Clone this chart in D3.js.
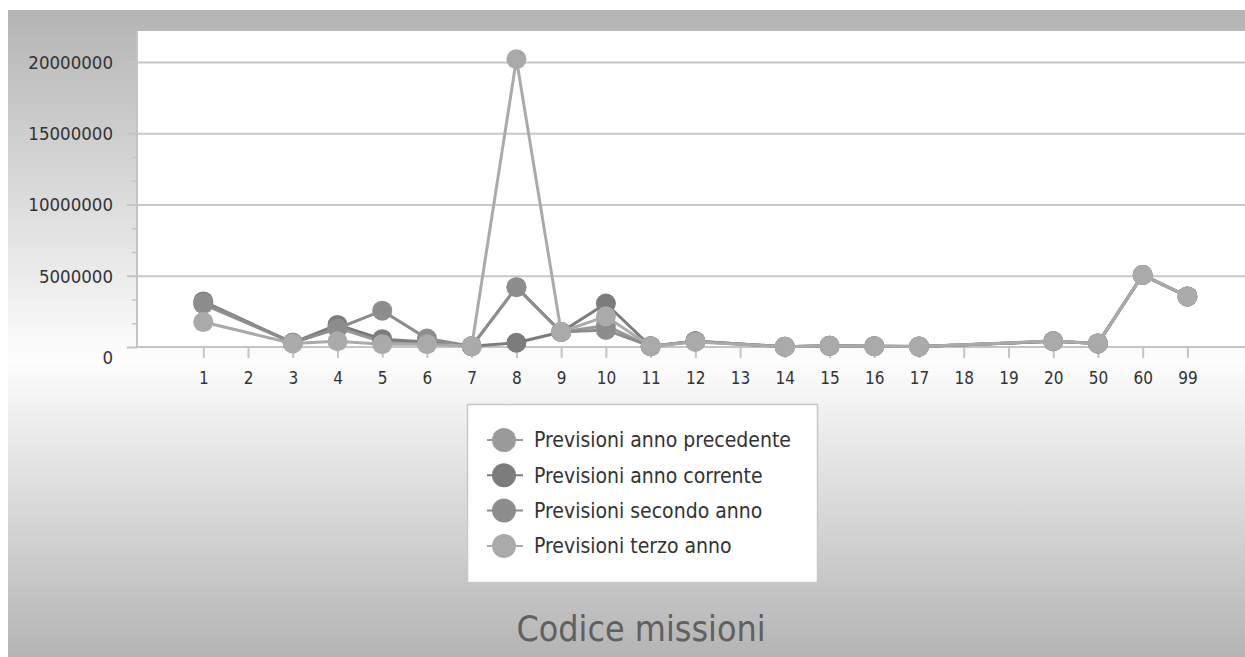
<!DOCTYPE html>
<html lang="it">
<head>
<meta charset="UTF-8">
<title>Codice missioni</title>
<script src="https://d3js.org/d3.v7.min.js"></script>
<style>
  html, body { margin: 0; padding: 0; background: #fff; }
  svg { display: block; }
  text { font-family: "DejaVu Sans Condensed", "DejaVu Sans", sans-serif; }
</style>
</head>
<body>
<div id="chart"></div>
<script>
// categories on the x axis (missing codes have no value)
const categories = ["1","2","3","4","5","6","7","8","9","10","11","12","13","14","15","16","17","18","19","20","50","60","99"];

const seriesNames = ["Previsioni anno precedente", "Previsioni anno corrente", "Previsioni secondo anno", "Previsioni terzo anno"];
const seriesColors = ["#9a9a9a", "#7c7c7c", "#8d8d8d", "#aaaaaa"];

const annoPrecedente = [3000000, null, 300000, 1350000, 350000, 300000, 50000, 4200000, 1050000, 1500000, 50000, 400000, null, 20000, 80000, 60000, 30000, null, null, 400000, 250000, 5050000, 3550000];
const annoCorrente   = [3200000, null, 300000, 1550000, 550000, 350000, 50000, 300000, 1050000, 3050000, 50000, 400000, null, 20000, 80000, 60000, 30000, null, null, 400000, 250000, 5050000, 3550000];
const secondoAnno    = [3100000, null, 300000, 1300000, 2550000, 600000, 50000, 4200000, 1050000, 1200000, 50000, 400000, null, 20000, 80000, 60000, 30000, null, null, 400000, 250000, 5050000, 3550000];
const terzoAnno      = [1750000, null, 250000, 400000, 200000, 200000, 50000, 20200000, 1050000, 2150000, 50000, 350000, null, 20000, 80000, 60000, 30000, null, null, 420000, 250000, 5050000, 3550000];

const yTicks = [0, 5000000, 10000000, 15000000, 20000000];

const allSeries = [annoPrecedente, annoCorrente, secondoAnno, terzoAnno];

const W = 1245, H = 657;
const plot = {left: 138, top: 31, right: 1245, bottom: 347};

const svg = d3.select("#chart").append("svg")
  .attr("width", W).attr("height", H);

// panel background gradient
const defs = svg.append("defs");
const grad = defs.append("linearGradient")
  .attr("id", "bg").attr("x1", 0).attr("y1", 0).attr("x2", 0).attr("y2", 1);
grad.append("stop").attr("offset", "0%").attr("stop-color", "#b4b4b4");
grad.append("stop").attr("offset", "54%").attr("stop-color", "#fdfdfd");
grad.append("stop").attr("offset", "100%").attr("stop-color", "#b4b4b4");

svg.append("rect")
  .attr("x", 8).attr("y", 10).attr("width", W - 8).attr("height", H - 10)
  .attr("fill", "url(#bg)");

// plot area
svg.append("rect")
  .attr("x", plot.left).attr("y", plot.top)
  .attr("width", plot.right - plot.left).attr("height", plot.bottom - plot.top)
  .attr("fill", "#fff");

const x = d3.scalePoint()
  .domain(categories)
  .range([203.3, 1187.4]);

const y = d3.scaleLinear()
  .domain([0, 20000000])
  .range([plot.bottom, 62]);

// gridlines
svg.append("g")
  .attr("transform", `translate(${plot.left},0)`)
  .call(d3.axisLeft(y).tickValues(yTicks.slice(1)).tickSize(-(plot.right - plot.left)).tickFormat(""))
  .call(g => g.select(".domain").remove())
  .call(g => g.selectAll("line").attr("stroke", "#c8c8c8").attr("stroke-width", 2));

// minor ticks
const minor = d3.range(0, 20000001, 5000000 / 3).filter(v => Math.abs(v % 5000000) > 1 && Math.abs(v % 5000000 - 5000000) > 1);
svg.append("g")
  .attr("transform", `translate(${plot.left - 1},0)`)
  .call(d3.axisLeft(y).tickValues(minor).tickSize(5).tickFormat(""))
  .call(g => g.select(".domain").remove())
  .call(g => g.selectAll("line").attr("stroke", "#c4c4c4").attr("stroke-width", 1.5));

// y axis
const yAxis = svg.append("g")
  .attr("transform", `translate(${plot.left - 1},0)`)
  .call(d3.axisLeft(y).tickValues(yTicks).tickSize(10).tickPadding(14).tickFormat(d3.format("d")));
yAxis.select(".domain").attr("d", `M0,${plot.top}V${plot.bottom}`).attr("stroke", "#c4c4c4").attr("stroke-width", 2);
yAxis.selectAll("line").attr("stroke", "#c4c4c4").attr("stroke-width", 2);
yAxis.selectAll("text")
  .attr("fill", "#333").style("font-size", "18.5px")
  .attr("dy", d => d === 0 ? "0.9em" : "0.35em");

// x axis
const xAxis = svg.append("g")
  .attr("transform", `translate(0,${plot.bottom})`)
  .call(d3.axisBottom(x).tickSize(11).tickPadding(14));
xAxis.select(".domain").attr("d", `M${plot.left - 1},0H${plot.right}`).attr("stroke", "#c4c4c4").attr("stroke-width", 2);
xAxis.selectAll("line").attr("stroke", "#c4c4c4").attr("stroke-width", 2);
xAxis.selectAll("text").attr("fill", "#333").style("font-size", "17px");

// series lines and markers
const line = d3.line().x(d => x(d.c)).y(d => y(d.v));

allSeries.forEach((vals, i) => {
  const pts = categories.map((c, j) => ({c: c, v: vals[j]})).filter(d => d.v != null);
  const g = svg.append("g");
  g.append("path")
    .datum(pts)
    .attr("d", line)
    .attr("fill", "none")
    .attr("stroke", seriesColors[i])
    .attr("stroke-width", 3);
  g.selectAll("circle")
    .data(pts)
    .join("circle")
      .attr("cx", d => x(d.c))
      .attr("cy", d => y(d.v))
      .attr("r", 10)
      .attr("fill", seriesColors[i]);
});

// legend
const legend = svg.append("g").attr("transform", "translate(467,404)");
legend.append("rect")
  .attr("x", 0.5).attr("y", 0.5).attr("width", 350).attr("height", 178)
  .attr("fill", "#fff").attr("stroke", "#c8c8c8").attr("stroke-width", 1.5);

seriesNames.forEach((name, i) => {
  const ly = 36 + i * 35.3;
  legend.append("line")
    .attr("x1", 20).attr("x2", 56).attr("y1", ly).attr("y2", ly)
    .attr("stroke", seriesColors[i]).attr("stroke-width", 2);
  legend.append("circle")
    .attr("cx", 37).attr("cy", ly).attr("r", 12)
    .attr("fill", seriesColors[i]);
  legend.append("text")
    .attr("x", 67).attr("y", ly).attr("dy", "0.35em")
    .attr("fill", "#333").style("font-size", "21px")
    .text(name);
});

// axis title
svg.append("text")
  .attr("x", 641).attr("y", 641)
  .attr("text-anchor", "middle")
  .attr("fill", "#606060")
  .style("font-size", "35.5px")
  .text("Codice missioni");
</script>
</body>
</html>
